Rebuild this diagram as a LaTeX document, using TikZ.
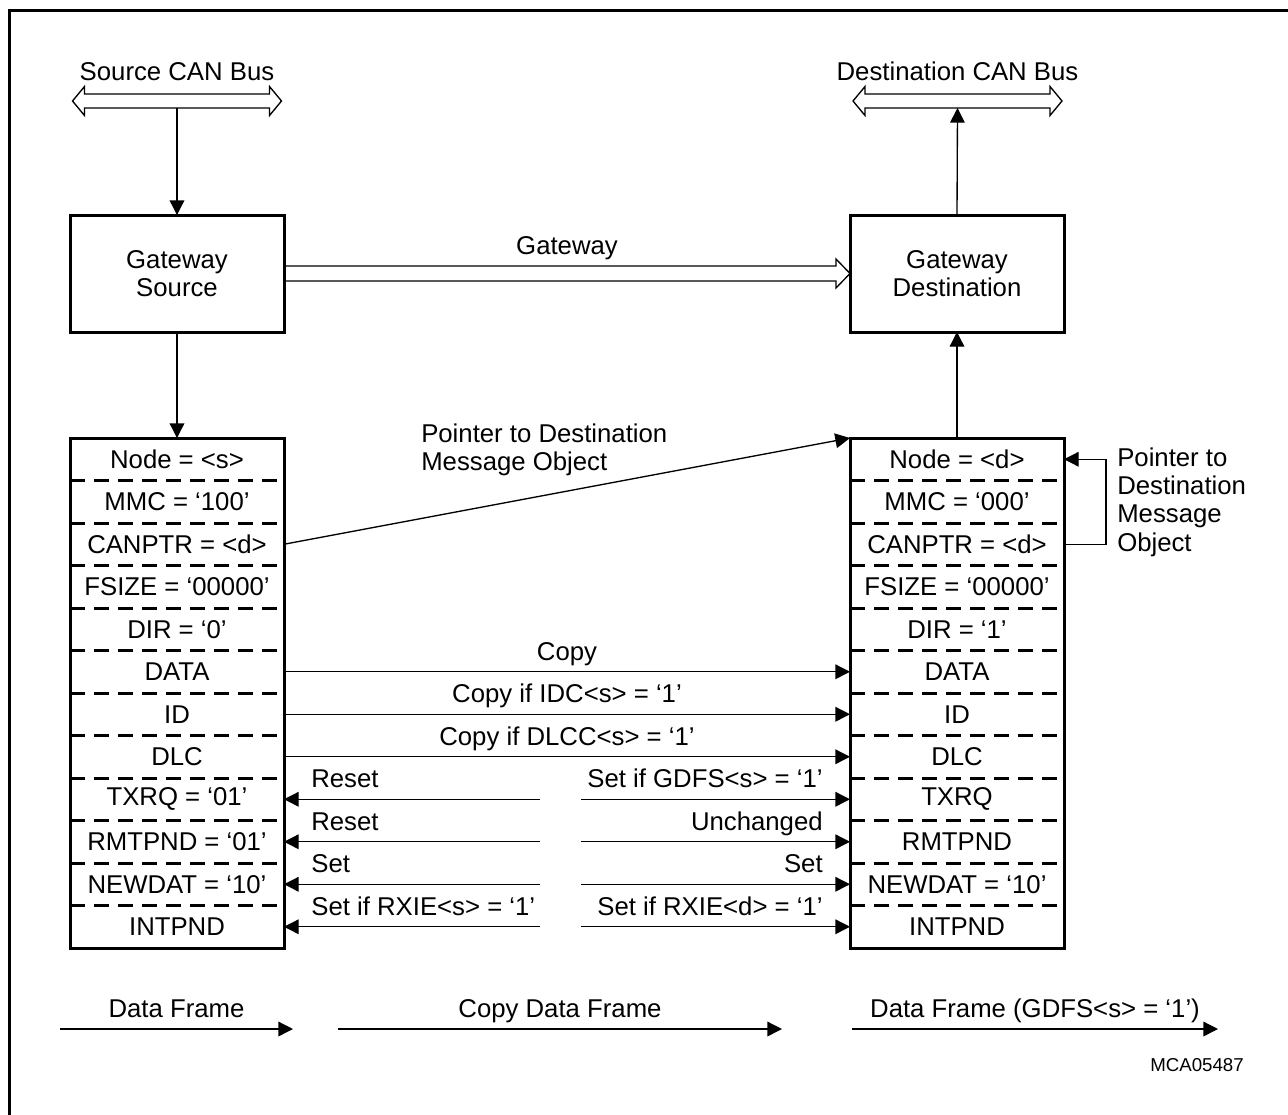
\documentclass[tikz,border=0pt]{standalone}
\usepackage{fontspec}
\setmainfont{Liberation Sans}
\usetikzlibrary{arrows.meta,positioning,calc}

% hollow double-headed bus arrow round a bus node
\newcommand{\canbus}[1]{%
  \draw[line width=1pt] (#1.west) -- ++(12,-14.5) -- ++(0,7.5) -- ++(185,0) -- ++(0,-7.5)
    -- ++(12,14.5) -- ++(-12,14.5) -- ++(0,-7.5) -- ++(-185,0) -- ++(0,7.5) -- cycle;}

\begin{document}
\begin{tikzpicture}[
    x=0.75pt, y=-0.75pt,
    font=\fontsize{19.3}{21.3}\selectfont,
    node distance=0pt,
    box/.style={draw=black,line width=2.25pt,minimum width=160.5pt,minimum height=87.75pt,align=center,inner sep=0pt,outer sep=0pt},
    field/.style={minimum width=160.5pt,minimum height=31.875pt,inner sep=0pt,outer sep=0pt},
    bus/.style={minimum width=156.75pt,minimum height=10.5pt,inner sep=0pt,outer sep=0pt},
    divider/.style={line width=2.25pt,dash pattern=on 11pt off 7pt},
    arrow/.style={-{Triangle[length=11pt,width=11pt]},line width=1pt},
    lbl/.style={inner sep=0pt,anchor=base,yshift=8.7pt},
    lbll/.style={inner sep=0pt,anchor=base west,xshift=20pt,yshift=8.6pt},
    lblr/.style={inner sep=0pt,anchor=base east,xshift=-20pt,yshift=8.6pt},
    note/.style={inner sep=0pt,align=left,anchor=west}
  ]
    \useasboundingbox (0,0) rectangle (1288,1114);
    \draw[line width=2.25pt] (9,10) rectangle (1310,1130);

    % CAN buses
    \node[bus] (srcbus) at (177,101) {};
    \node[bus] (dstbus) at (957.5,101) {};
    \canbus{srcbus}
    \canbus{dstbus}
    \node[anchor=base,inner sep=0pt] (srclbl) at (177,80) {Source CAN Bus};
    \node[anchor=base,inner sep=0pt] (dstlbl) at (957.5,80) {Destination CAN Bus};

    % gateway boxes
    \node[box] (gwsrc) at (177,273.5) {Gateway\\Source};
    \node[box] (gwdst) at (957,273.5) {Gateway\\Destination};

    % source message object
    \node[field] (snode) at (177,459.25) {Node = <s>};
    \node[field,below=of snode] (smmc) {MMC = ‘100’};
    \node[field,below=of smmc] (sptr) {CANPTR = <d>};
    \node[field,below=of sptr] (sfsize) {FSIZE = ‘00000’};
    \node[field,below=of sfsize] (sdir) {DIR = ‘0’};
    \node[field,below=of sdir] (sdata) {DATA};
    \node[field,below=of sdata] (sid) {ID};
    \node[field,below=of sid] (sdlc) {DLC};
    \node[field,below=of sdlc] (stxrq) {TXRQ = ‘01’};
    \node[field,below=of stxrq] (srmt) {RMTPND = ‘01’};
    \node[field,below=of srmt] (snew) {NEWDAT = ‘10’};
    \node[field,below=of snew] (sint) {INTPND};

    % destination message object
    \node[field] (dnode) at (957,459.25) {Node = <d>};
    \node[field,below=of dnode] (dmmc) {MMC = ‘000’};
    \node[field,below=of dmmc] (dptr) {CANPTR = <d>};
    \node[field,below=of dptr] (dfsize) {FSIZE = ‘00000’};
    \node[field,below=of dfsize] (ddir) {DIR = ‘1’};
    \node[field,below=of ddir] (ddata) {DATA};
    \node[field,below=of ddata] (did) {ID};
    \node[field,below=of did] (ddlc) {DLC};
    \node[field,below=of ddlc] (dtxrq) {TXRQ};
    \node[field,below=of dtxrq] (drmt) {RMTPND};
    \node[field,below=of drmt] (dnew) {NEWDAT = ‘10’};
    \node[field,below=of dnew] (dint) {INTPND};

    \foreach \f in {node,mmc,ptr,fsize,dir,data,id,dlc,txrq,rmt,new}{
      \draw[divider] (s\f.south west) -- (s\f.south east);
      \draw[divider] (d\f.south west) -- (d\f.south east);
    }
    \draw[line width=2.25pt] (snode.north west) rectangle (sint.south east);
    \draw[line width=2.25pt] (dnode.north west) rectangle (dint.south east);

    % vertical links
    \draw[arrow] (srcbus.south) -- (gwsrc.north);
    \draw[arrow] (gwsrc.south) -- (snode.north);
    \draw[arrow] (dnode.north) -- (gwdst.south);
    \draw[arrow] (gwdst.north) -- (dstbus.south);

    % gateway transfer
    \draw[line width=1pt] ($(gwsrc.east)+(0,-7.5)$) -- ($(gwdst.west)+(-14,-7.5)$) -- ++(0,-7)
      -- (gwdst.west) -- ++(-14,14.5) -- ++(0,-7) -- ($(gwsrc.east)+(0,7.5)$);
    \path (gwsrc.east) -- node[anchor=base,inner sep=0pt,yshift=14.2pt] (gwlbl) {Gateway} (gwdst.west);

    % pointers
    \draw[arrow] (sptr.east) -- (dnode.north west);
    \node[note] (ptrnote) at (421,450) {Pointer to Destination\\Message Object};
    \draw[arrow] (dptr.east) -- ++(42,0) |- (dnode.east);
    \node[note] (selfnote) at (1117,502) {Pointer to\\Destination\\Message\\Object};

    % copied fields
    \draw[arrow] (sdata) -- node[lbl] {Copy} (ddata);
    \draw[arrow] (sid) -- node[lbl] {Copy if IDC<s> = ‘1’} (did);
    \draw[arrow] (sdlc) -- node[lbl] {Copy if DLCC<s> = ‘1’} (ddlc);

    % control bits
    \foreach \f in {txrq,rmt,new,int}{
      \coordinate (l\f) at ($(s\f.east)+(256,0)$);
      \coordinate (r\f) at ($(d\f.west)+(-269,0)$);
    }
    \draw[arrow] (ltxrq) -- (stxrq.east) node[lbll] {Reset};
    \draw[arrow] (rtxrq) -- (dtxrq.west) node[lblr] {Set if GDFS<s> = ‘1’};
    \draw[arrow] (lrmt) -- (srmt.east) node[lbll] {Reset};
    \draw[arrow] (rrmt) -- (drmt.west) node[lblr] {Unchanged};
    \draw[arrow] (lnew) -- (snew.east) node[lbll] {Set};
    \draw[arrow] (rnew) -- (dnew.west) node[lblr] {Set};
    \draw[arrow] (lint) -- (sint.east) node[lbll] {Set if RXIE<s> = ‘1’};
    \draw[arrow] (rint) -- (dint.west) node[lblr] {Set if RXIE<d> = ‘1’};

    % frame legend
    \coordinate (f1a) at (60,1029);
    \coordinate (f1b) at (293,1029);
    \coordinate (f2a) at (338,1029);
    \coordinate (f2b) at (782,1029);
    \coordinate (f3a) at (852,1029);
    \coordinate (f3b) at (1218,1029);
    \draw[arrow] (f1a) -- node[lbl] {Data Frame} (f1b);
    \draw[arrow] (f2a) -- node[lbl] {Copy Data Frame} (f2b);
    \draw[arrow] (f3a) -- node[lbl] {Data Frame (GDFS<s> = ‘1’)} (f3b);
    \node[font=\fontsize{14}{16}\selectfont,anchor=base,inner sep=0pt] (figid) at (1197,1071.7) {MCA05487};
  \end{tikzpicture}
\end{document}
